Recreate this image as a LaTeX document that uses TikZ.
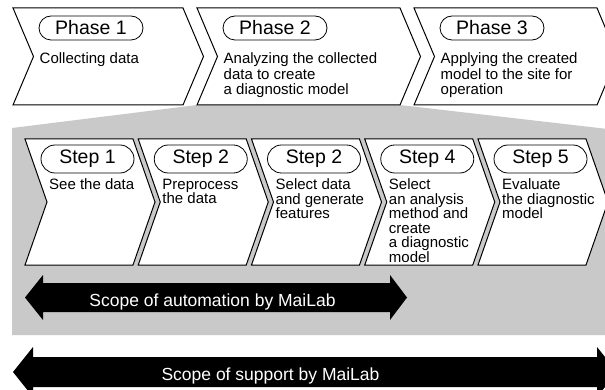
\documentclass[tikz,border=0pt]{standalone}
\usepackage{fontspec}
\setmainfont{Liberation Sans}
\usetikzlibrary{shapes.misc}
\definecolor{funnelgray}{RGB}{201,201,201}

\begin{document}
\begin{tikzpicture}[x=1pt,y=-1pt,line join=miter,
    chev/.style={draw=black,fill=white,line width=1pt},
    pill/.style={draw=black,line width=0.8pt,rounded rectangle,inner sep=0pt,font=\fontsize{19.5}{19.5}\selectfont},
    desc/.style={anchor=north west,inner sep=0pt,align=left,font=\fontsize{15}{14.5}\selectfont},
    scopetext/.style={text=white,anchor=base,inner sep=0pt,font=\fontsize{17.5}{17.5}\selectfont}]
    \useasboundingbox (0,0) rectangle (605,390);
    \clip (0,0) rectangle (605,390);

    % gray funnel below phase 2
    \fill[funnelgray] (12,128) -- (197,105) -- (400,105) -- (625,131) -- (625,335) -- (12,335) -- cycle;

    % the three phases
    \foreach \n/\l/\r/\txt in {1/13/183/{Collecting data},
        2/197/400/{Analyzing the collected\\data to create\\a diagnostic model},
        3/414/597/{Applying the created\\model to the site for\\operation}}{
        \draw[chev] (\l,8) -- (\r,8) -- (\r+20.5,56.5) -- (\r,105) -- (\l,105) -- (\l+20.5,56.5) -- cycle;
        \node[pill,minimum width=104,minimum height=24] (phase\n) at (\l+78,28) {Phase \n};
        \node[desc,font=\fontsize{15}{15.5}\selectfont] (phasetxt\n) at (\l+26.5,52.5) {\txt};
    }

    % the five steps
    \foreach \i/\lbl/\txt in {0/1/{See the data},
        1/2/{Preprocess\\the data},
        2/2/{Select data\\and generate\\features},
        3/4/{Select\\an analysis\\method and\\create\\a diagnostic\\model},
        4/5/{Evaluate\\the diagnostic\\model}}{
        \pgfmathsetmacro\l{25+113.25*\i}
        \draw[chev] (\l,139) -- (\l+108,139) -- (\l+130,202) -- (\l+108,265) -- (\l,265) -- (\l+22,202) -- cycle;
        \node[pill,minimum width=93,minimum height=28] (step\i) at (\l+62.5,159) {Step \lbl};
        \node[desc] (steptxt\i) at (\l+24,178.5) {\txt};
    }

    % scope of automation
    \fill (25,297.5) -- (43,275) -- (43,283) -- (390,283) -- (390,275) -- (407,297.5)
        -- (390,320) -- (390,312) -- (43,312) -- (43,320) -- cycle;
    \node[scopetext] (autotext) at (212.5,306.5) {Scope of automation by MaiLab};

    % scope of support
    \fill (13,372) -- (33,347) -- (33,357) -- (597,357) -- (597,347) -- (617,372)
        -- (597,397) -- (597,387) -- (33,387) -- (33,397) -- cycle;
    \node[scopetext] (supporttext) at (270.5,380) {Scope of support by MaiLab};
\end{tikzpicture}
\end{document}
